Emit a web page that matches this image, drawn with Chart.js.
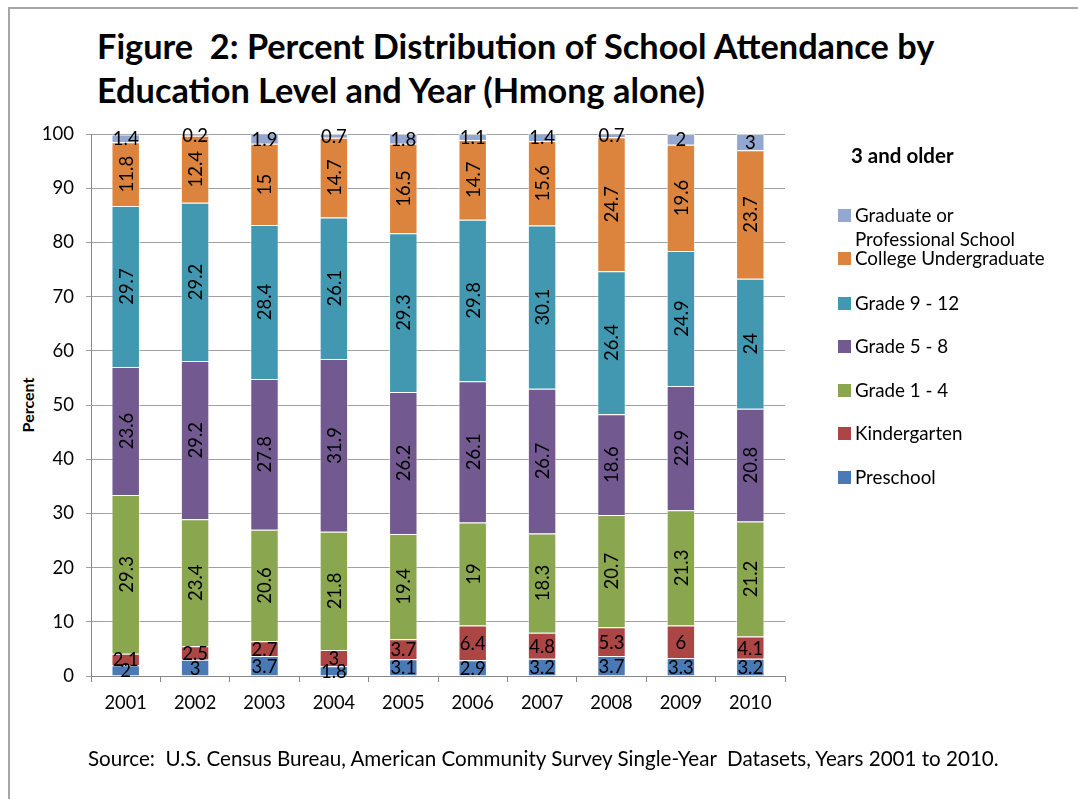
<!DOCTYPE html>
<html>
<head>
<meta charset="utf-8">
<script src="https://cdn.jsdelivr.net/npm/chart.js@4/dist/chart.umd.min.js"></script>
<style>
  body { margin: 0; background: #fff; font-family: Lato, "Open Sans", sans-serif; }
  #wrap { position: relative; width: 1078px; height: 799px; overflow: hidden; }
  #frame { position: absolute; left: 8px; top: 7px; width: 1100px; height: 820px; border: 2px solid #a6a6a6; box-sizing: border-box; }
  #title { position: absolute; left: 97px; top: 24px; font-size: 34.3px; font-weight: bold; line-height: 44px; color: #000; white-space: nowrap; }
  #ytitle { position: absolute; left: 27px; top: 405px; transform: translate(-50%, -50%) rotate(-90deg); font-size: 16px; font-weight: bold; }
  #legend { position: absolute; left: 838px; top: 0; }
  #legend .ltitle { position: absolute; left: 13px; top: 143px; font-size: 20.5px; font-weight: bold; white-space: nowrap; }
  #legend .item { position: absolute; left: 0; font-size: 18.8px; line-height: 24px; white-space: nowrap; }
  #legend .sw { position: absolute; left: 0; top: 6px; width: 13px; height: 13px; }
  #legend .txt { position: absolute; left: 17px; top: 0; }
  #source { position: absolute; left: 88px; top: 746px; font-size: 20.6px; white-space: nowrap; }
  canvas { position: absolute; left: 0; top: 0; }
</style>
</head>
<body>
<div id="wrap">
  <div id="frame"></div>
  <div id="title">Figure&nbsp; 2: Percent Distribution of School Attendance by<br>Education Level and Year (Hmong alone)</div>
  <div id="ytitle">Percent</div>
  <canvas id="barChart" width="1078" height="799"></canvas>
  <div id="legend"></div>
  <div id="source">Source:&nbsp; U.S. Census Bureau, American Community Survey Single-Year&nbsp; Datasets, Years 2001 to 2010.</div>
</div>
<script>
const years = ['2001', '2002', '2003', '2004', '2005', '2006', '2007', '2008', '2009', '2010'];
const yTicks = [0, 10, 20, 30, 40, 50, 60, 70, 80, 90, 100];

const preschool    = [2, 3, 3.7, 1.8, 3.1, 2.9, 3.2, 3.7, 3.3, 3.2];
const kindergarten = [2.1, 2.5, 2.7, 3, 3.7, 6.4, 4.8, 5.3, 6, 4.1];
const grade1to4    = [29.3, 23.4, 20.6, 21.8, 19.4, 19, 18.3, 20.7, 21.3, 21.2];
const grade5to8    = [23.6, 29.2, 27.8, 31.9, 26.2, 26.1, 26.7, 18.6, 22.9, 20.8];
const grade9to12   = [29.7, 29.2, 28.4, 26.1, 29.3, 29.8, 30.1, 26.4, 24.9, 24];
const college      = [11.8, 12.4, 15, 14.7, 16.5, 14.7, 15.6, 24.7, 19.6, 23.7];
const graduate     = [1.4, 0.2, 1.9, 0.7, 1.8, 1.1, 1.4, 0.7, 2, 3];

const series = [
    { label: 'Preschool', data: preschool, color: '#4a7ab6', rotate: false },
    { label: 'Kindergarten', data: kindergarten, color: '#ab4644', rotate: false },
    { label: 'Grade 1 - 4', data: grade1to4, color: '#8aa64f', rotate: true },
    { label: 'Grade 5 - 8', data: grade5to8, color: '#725a91', rotate: true },
    { label: 'Grade 9 - 12', data: grade9to12, color: '#4298b0', rotate: true },
    { label: 'College Undergraduate', data: college, color: '#dc843e', rotate: true },
    { label: 'Graduate or Professional School', data: graduate, color: '#94a7d1', rotate: false }
];

// value labels drawn in the middle of each segment
const barLabels = {
    id: 'barLabels',
    afterDatasetsDraw(chart) {
        const ctx = chart.ctx;
        ctx.save();
        ctx.fillStyle = '#000';
        ctx.font = '18.5px Lato, "Open Sans", sans-serif';
        ctx.textAlign = 'center';
        ctx.textBaseline = 'middle';
        chart.data.datasets.forEach((ds, i) => {
            chart.getDatasetMeta(i).data.forEach((bar, j) => {
                const cy = (bar.y + bar.base) / 2;
                const txt = String(ds.data[j]);
                if (series[i].rotate) {
                    ctx.save();
                    ctx.translate(bar.x, cy);
                    ctx.rotate(-Math.PI / 2);
                    ctx.fillText(txt, 0, 1);
                    ctx.restore();
                } else {
                    ctx.fillText(txt, bar.x, cy + 1);
                }
            });
        });
        ctx.restore();
    }
};

const ctx = document.getElementById('barChart').getContext('2d');
const chart = new Chart(ctx, {
    type: 'bar',
    data: {
        labels: years,
        datasets: series.map(s => ({
            label: s.label,
            data: s.data,
            backgroundColor: s.color,
            borderColor: 'rgba(255,255,255,0.55)',
            borderWidth: 1,
            barPercentage: 0.41,
            categoryPercentage: 1
        }))
    },
    options: {
        responsive: false,
        animation: false,
        layout: { padding: { left: 10, top: 134, right: 293, bottom: 83 } },
        plugins: {
            legend: { display: false },
            tooltip: { enabled: false }
        },
        scales: {
            x: {
                stacked: true,
                afterFit: s => { s.height = 40; },
                grid: { drawOnChartArea: false, color: '#888', tickLength: 6 },
                border: { color: '#888', width: 1 },
                ticks: { color: '#000', font: { size: 18.3, family: 'Lato' }, padding: 10 }
            },
            y: {
                stacked: true,
                min: 0,
                max: 100,
                afterFit: s => { s.width = 81; },
                afterBuildTicks: s => { s.ticks = yTicks.map(v => ({ value: v })); },
                grid: { color: '#a0a0a0', tickLength: 5 },
                border: { color: '#888', width: 1 },
                ticks: { color: '#000', font: { size: 18.5, family: 'Lato' }, padding: 12 }
            }
        }
    },
    plugins: [barLabels]
});

// legend, top to bottom in reverse stacking order
const legend = document.getElementById('legend');
legend.innerHTML = '<div class="ltitle">3 and older</div>';
const legendTops = [465, 421, 378, 334, 291, 246, 203];
series.forEach((s, i) => {
    const item = document.createElement('div');
    item.className = 'item';
    item.style.top = legendTops[i] + 'px';
    const text = s.label === 'Graduate or Professional School' ? 'Graduate or<br>Professional School' : s.label;
    item.innerHTML = '<div class="sw" style="background:' + s.color + '"></div><div class="txt">' + text + '</div>';
    legend.appendChild(item);
});
</script>
</body>
</html>
